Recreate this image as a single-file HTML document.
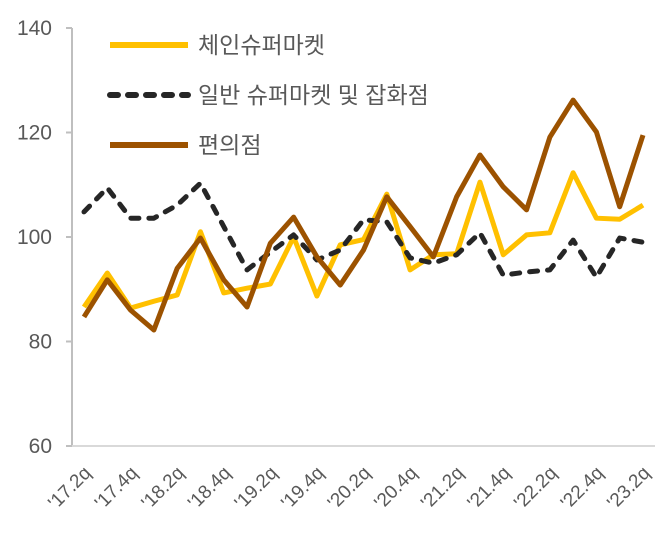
<!DOCTYPE html>
<html><head><meta charset="utf-8"><style>
body{margin:0;background:#fff;}
svg text{font-family:"Liberation Sans","Noto Sans CJK KR",sans-serif;fill:#595959;}
</style></head><body>
<svg id="chart" width="663" height="538" viewBox="0 0 663 538" xmlns="http://www.w3.org/2000/svg">
<g id="axes"></g><g id="series"></g><g id="legend"></g>
</svg>
<script>
const categories=["'17.2q","'17.3q","'17.4q","'18.1q","'18.2q","'18.3q","'18.4q","'19.1q","'19.2q","'19.3q","'19.4q","'20.1q","'20.2q","'20.3q","'20.4q","'21.1q","'21.2q","'21.3q","'21.4q","'22.1q","'22.2q","'22.3q","'22.4q","'23.1q","'23.2q"];
const chainSuper=[86.6,93.1,86.4,87.7,88.9,101,89.3,90.2,91,100,88.7,98.5,99.5,108.2,93.7,96.6,96.8,110.5,96.6,100.4,100.8,112.3,103.6,103.4,106.1];
const generalSuper=[104.8,109.4,103.6,103.6,106.1,110.3,102,93.7,97.1,100.4,95.6,97.5,103.3,102.9,96,95,96.6,100.8,92.7,93.3,93.7,99.4,92.3,99.8,99];
const convenience=[84.7,91.8,86,82.2,94,99.8,91.8,86.6,98.8,103.8,96.2,90.8,97.5,107.7,102,96.2,107.7,115.7,109.6,105.2,119.1,126.2,120.1,105.8,119.5];
const yTicks=[60,80,100,120,140];
const seriesNames=["체인슈퍼마켓","일반 슈퍼마켓 및 잡화점","편의점"];

const NS="http://www.w3.org/2000/svg";
const x0=84,x1=643,yTop=28,yBot=446,vMin=60,vMax=140;
function xs(i){return x0+(x1-x0)*i/(categories.length-1);}
function ys(v){return yBot-(v-vMin)/(vMax-vMin)*(yBot-yTop);}
function mk(tag,attrs,parent){const e=document.createElementNS(NS,tag);for(const k in attrs)e.setAttribute(k,attrs[k]);parent.appendChild(e);return e;}
const axes=document.getElementById('axes'),ser=document.getElementById('series'),leg=document.getElementById('legend');

let yl=mk('line',{x1:72,y1:yTop,x2:72,y2:yBot,stroke:'#bfbfbf','stroke-width':2},axes);


let xl=mk('line',{x1:72,y1:yBot,x2:655,y2:yBot,stroke:'#d9d9d9','stroke-width':2},axes);


yTicks.forEach(v=>{
  const tk=mk('line',{x1:66,y1:ys(v),x2:72,y2:ys(v),stroke:'#bfbfbf','stroke-width':2},axes);
  
  
  const t=mk('text',{x:52,y:ys(v)+7,'text-anchor':'end','font-size':21},axes);
  t.textContent=v;
  
  
});
categories.forEach((c,i)=>{
  if(i%2)return;
  const x=xs(i)+8,y=yBot+28;
  const t=mk('text',{x:x,y:y,'text-anchor':'end','font-size':19,transform:`rotate(-45 ${x} ${y})`},axes);
  t.textContent=c;
  
  
});
function line(data,color,dash,name){
  const p=mk('polyline',{points:data.map((v,i)=>xs(i)+','+ys(v)).join(' '),fill:'none',stroke:color,'stroke-width':5,'stroke-linejoin':'round','stroke-linecap':dash?'round':'butt'},ser);
  if(dash)p.setAttribute('stroke-dasharray',dash);
  
  
}
line(chainSuper,'#ffc000',null,'chain-supermarket-line');
line(generalSuper,'#262626','8 10','general-supermarket-line');
line(convenience,'#9c5200',null,'convenience-store-line');

const legColors=['#ffc000','#262626','#9c5200'],legDash=[null,'8 10',null],legY=[45,95,145];
seriesNames.forEach((n,i)=>{
  const l=mk('line',{x1:110,y1:legY[i],x2:188,y2:legY[i],stroke:legColors[i],'stroke-width':6,'stroke-linecap':legDash[i]?'round':'butt'},leg);
  if(legDash[i])l.setAttribute('stroke-dasharray',legDash[i]);
  
  
  const t=mk('text',{x:198,y:legY[i]+8,'font-size':23},leg);
  t.textContent=n;
  
  
});
</script>
</body></html>
